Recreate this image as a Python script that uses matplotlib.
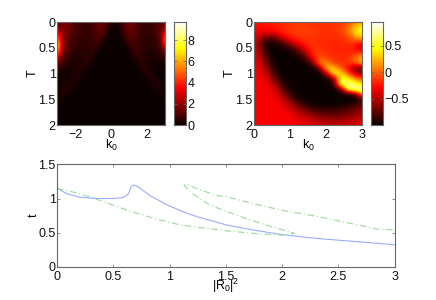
import numpy as np
import matplotlib
matplotlib.use("Agg")
import matplotlib.pyplot as plt

plt.rcParams['font.family'] = ['Liberation Sans', 'DejaVu Sans']
plt.rcParams['font.size'] = 9
plt.rcParams['mathtext.fontset'] = 'custom'
plt.rcParams['mathtext.rm'] = 'Liberation Sans'
plt.rcParams['mathtext.it'] = 'Liberation Sans'

left_k = [-3 + 0.25 * i for i in range(25)]
left_T = [0.125 * i for i in range(17)]
left_vals = [
 [1.0,1.4,1.6,1.3,0.9,0.7,0.6,0.7,0.9,1.1,1.4,1.2,0.3,0.1,0.4,1.1,1.5,1.2,0.8,0.6,0.6,0.7,1.0,1.3,1.4],
 [1.8,1.6,1.6,1.3,0.9,0.7,0.6,0.7,0.9,1.2,1.4,0.6,0.1,0.1,0.5,1.1,1.5,1.2,0.8,0.6,0.6,0.7,1.0,1.3,2.2],
 [4.0,2.3,1.5,1.1,0.8,0.7,0.6,0.6,0.8,1.1,1.1,0.2,0.03,0.03,0.1,0.8,1.2,1.0,0.8,0.5,0.5,0.6,0.9,1.4,5.5],
 [7.0,2.6,1.3,0.9,0.7,0.6,0.5,0.6,0.7,0.9,0.3,0.03,0,0,0.03,0.3,0.9,0.9,0.7,0.5,0.4,0.5,0.8,1.3,6.5],
 [8.0,2.6,1.2,0.8,0.6,0.5,0.5,0.5,0.7,0.4,0.03,0,0,0,0,0.03,0.4,0.9,0.6,0.4,0.4,0.4,0.5,0.9,3.0],
 [4.5,1.7,0.9,0.6,0.4,0.4,0.4,0.5,0.4,0.03,0,0,0,0,0,0,0.1,0.6,0.6,0.4,0.3,0.3,0.4,0.5,1.0],
 [2.0,1.0,0.6,0.4,0.3,0.3,0.4,0.5,0.1,0,0,0,0,0,0,0,0,0.15,0.5,0.5,0.2,0.2,0.2,0.3,0.4],
 [0.8,0.5,0.3,0.2,0.2,0.3,0.5,0.1,0,0,0,0,0,0,0,0,0,0,0.15,0.5,0.3,0.15,0.1,0.1,0.1],
 [0.2,0.15,0.1,0.15,0.3,0.4,0.08,0,0,0,0,0,0,0,0,0,0,0,0,0.15,0.5,0.2,0.05,0.05,0.05],
 [0.05,0.05,0.15,0.4,0.4,0.08,0,0,0,0,0,0,0,0,0,0,0,0,0,0,0.15,0.4,0.2,0.03,0.03],
 [0.05,0.15,0.5,0.4,0.08,0,0,0,0,0,0,0,0,0,0,0,0,0,0,0,0,0.15,0.4,0.1,0.02],
 [0.2,0.5,0.3,0.03,0,0,0,0,0,0,0,0,0,0,0,0,0,0,0,0,0,0,0.08,0.35,0.15],
 [0.3,0.15,0.02,0,0,0,0,0,0,0,0,0,0,0,0,0,0,0,0,0,0,0,0,0.04,0.15],
 [0.02,0,0,0,0,0,0,0,0,0,0,0,0,0,0,0,0,0,0,0,0,0,0,0,0.02],
 [0]*25,
 [0]*25,
 [0]*25,
]

right_k = [0.2 * i for i in range(16)]
right_T = [0.1 * i for i in range(21)]
right_vals = [
 [-.24,-.22,-.22,-.2,-.18,-.16,-.15,-.15,-.16,-.16,-.16,-.16,-.14,-.08,.08,.2],
 [-.27,-.27,-.24,-.22,-.17,-.13,-.11,-.11,-.13,-.15,-.15,-.14,-.1,.02,.32,.45],
 [-.31,-.34,-.32,-.27,-.19,-.14,-.11,-.11,-.12,-.15,-.15,-.15,-.11,.02,.4,.5],
 [-.33,-.55,-.78,-.68,-.38,-.23,-.16,-.14,-.14,-.16,-.17,-.17,-.15,-.09,.12,.3],
 [-.35,-.78,-.98,-.92,-.78,-.5,-.27,-.17,-.15,-.16,-.18,-.19,-.17,-.15,-.15,-.25],
 [-.35,-.72,-1,-1,-.97,-.88,-.62,-.32,-.15,-.15,-.18,-.19,-.19,-.19,-.24,-.6],
 [-.35,-.6,-.98,-1,-1,-.98,-.88,-.58,-.15,-.12,-.16,-.19,-.19,-.19,-.15,-.12],
 [-.35,-.5,-.92,-1,-1,-1,-.98,-.88,-.3,-.03,-.1,-.16,-.17,-.16,.02,.3],
 [-.33,-.42,-.82,-1,-1,-1,-1,-.98,-.82,.18,.1,-.1,-.16,-.15,-.05,.3],
 [-.32,-.38,-.68,-.98,-1,-1,-1,-1,-1,-.85,.45,.3,-.05,-.25,-.78,-.82],
 [-.32,-.35,-.52,-.92,-1,-1,-1,-1,-1,-1,-.6,.6,.35,-.05,-.45,-.6],
 [-.3,-.32,-.42,-.78,-.98,-1,-1,-1,-1,-1,-.98,-.7,.65,.4,.1,-.1],
 [-.3,-.3,-.36,-.58,-.92,-1,-1,-1,-1,-1,-1,-.97,.85,.7,.55,.3],
 [-.3,-.3,-.32,-.44,-.78,-.98,-1,-1,-1,-1,-1,-1,-.8,.85,.9,.85],
 [-.3,-.3,-.3,-.37,-.58,-.88,-.98,-1,-1,-1,-1,-1,-1,-.98,-.85,.4],
 [-.3,-.3,-.3,-.33,-.44,-.72,-.92,-.99,-1,-1,-1,-1,-1,-1,-.98,-.88],
 [-.3,-.3,-.3,-.3,-.37,-.52,-.75,-.9,-.97,-.99,-.99,-.99,-.98,-.95,-.88,-.72],
 [-.3,-.3,-.3,-.3,-.32,-.41,-.54,-.7,-.82,-.87,-.89,-.87,-.84,-.77,-.7,-.57],
 [-.3,-.3,-.3,-.3,-.3,-.34,-.42,-.51,-.62,-.69,-.74,-.74,-.72,-.67,-.6,-.5],
 [-.3,-.3,-.3,-.3,-.3,-.3,-.35,-.4,-.47,-.52,-.57,-.58,-.57,-.52,-.47,-.41],
 [-.3,-.3,-.3,-.3,-.3,-.3,-.32,-.35,-.38,-.41,-.43,-.44,-.43,-.41,-.37,-.34],
]

blue_x = [0,.09,.2,.355,.5,.59,.636,.657,.68,.716,.83,.976,1.15,1.27,1.43,1.5,1.73,2,2.26,2.5,2.76,3]
blue_t = [1.15,1.07,1.02,1.0,1.0,1.015,1.07,1.165,1.2,1.175,1.04,.907,.785,.72,.647,.613,.54,.47,.42,.387,.353,.32]
green_x = [0,.18,.325,.5,.68,.887,1.09,1.27,1.42,1.5,1.73,2,2.11,1.88,1.67,1.43,1.33,1.18,1.13,1.15,1.27,1.43,1.5,1.73,2.02,2.32,2.62,2.85,3]
green_t = [1.15,1.08,1.005,.9,.8,.696,.613,.573,.544,.525,.49,.46,.49,.6,.71,.858,.93,1.1,1.2,1.21,1.127,1.04,1.03,.93,.82,.735,.63,.55,.54]

W, H = 436, 300
GREY = '#666666'


def make_axes(x0, x1, y0, y1):
    return fig.add_axes([x0 / W, 1 - y1 / H, (x1 - x0) / W, (y1 - y0) / H])


def style(ax):
    for s in ax.spines.values():
        s.set_color(GREY)
        s.set_linewidth(0.8)
    ax.tick_params(direction='in', length=2, width=0.5, color=GREY, pad=1,
                   labelsize=9, labelcolor='#111111')


def heat(x0, k, T, vals, vmin, vmax, xticks, xlabels, cticks, clabels):
    ax = make_axes(x0, x0 + 108, 22, 125)
    dk = (k[1] - k[0]) / 2
    dT = (T[1] - T[0]) / 2
    ax.imshow(np.array(vals, dtype=float), cmap='hot', vmin=vmin, vmax=vmax, aspect='auto',
              interpolation='bicubic', origin='upper',
              extent=[k[0] - dk, k[-1] + dk, T[-1] + dT, T[0] - dT])
    ax.set_xlim(k[0], k[-1])
    ax.set_ylim(2, 0)
    ax.set_xticks(xticks)
    ax.set_xticklabels(xlabels)
    ax.set_yticks([0, 0.5, 1, 1.5, 2])
    ax.set_yticklabels(['0', '0.5', '1', '1.5', '2'])
    style(ax)
    ax.tick_params(length=0)
    ax.tick_params(axis='x', pad=3)
    ax.set_xlabel('k$_0$', labelpad=-2, fontsize=9)
    ax.set_ylabel('T', labelpad=0, fontsize=9)

    cax = make_axes(x0 + 117, x0 + 129, 22, 125)
    grad = np.linspace(vmin, vmax, 256).reshape(-1, 1)
    cax.imshow(grad, cmap='hot', vmin=vmin, vmax=vmax, aspect='auto', origin='lower',
               extent=[0, 1, vmin, vmax])
    cax.set_xticks([])
    cax.yaxis.tick_right()
    cax.set_yticks(cticks)
    cax.set_yticklabels(clabels)
    style(cax)
    cax.tick_params(length=2, right=True, left=True)
    return ax


fig = plt.figure(figsize=(W / 100, H / 100), dpi=100)

heat(57, left_k, left_T, left_vals, 0, 9.7, [-2, 0, 2], ['\u22122', '0', '2'],
     [0, 2, 4, 6, 8], ['0', '2', '4', '6', '8'])
heat(254, right_k, right_T, right_vals, -1, 0.95, [0, 1, 2, 3], ['0', '1', '2', '3'],
     [-0.5, 0, 0.5], ['\u22120.5', '0', '0.5'])

ax = make_axes(57, 394.5, 164.5, 266.5)
ax.plot(blue_x, blue_t, color='#9aaeff', lw=0.8)
ax.plot(green_x, green_t, color='#98dc98', lw=0.8, ls=(0, (6, 2.5, 1, 2.5)))
ax.set_xlim(0, 3)
ax.set_ylim(0, 1.5)
ax.set_xticks([0, 0.5, 1, 1.5, 2, 2.5, 3])
ax.set_xticklabels(['0', '0.5', '1', '1.5', '2', '2.5', '3'])
ax.set_yticks([0, 0.5, 1, 1.5])
ax.set_yticklabels(['0', '0.5', '1', '1.5'])
style(ax)
ax.tick_params(axis='x', pad=3)
ax.tick_params(top=True, right=True)
ax.set_xlabel('|R$_0$|$^2$', labelpad=-4.5, fontsize=9)
ax.set_ylabel('t', labelpad=-1, fontsize=9)

fig.savefig('out.png', dpi=100)
